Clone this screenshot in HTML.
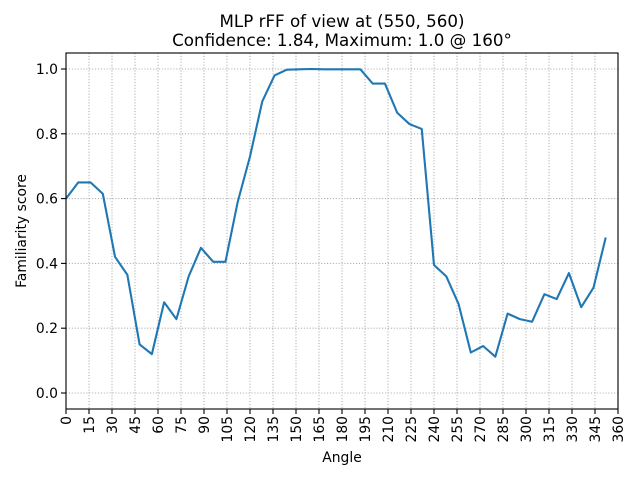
<!DOCTYPE html>
<html><head><meta charset="utf-8"><style>
body{margin:0;background:#fff;}
svg text{font-family:"DejaVu Sans","Liberation Sans",sans-serif;fill:#000;}
</style></head><body>
<svg id="chart" width="640" height="480" xmlns="http://www.w3.org/2000/svg">
<rect width="640" height="480" fill="#fff"/>
<text x="342" y="27" font-size="16.7" text-anchor="middle">MLP rFF of view at (550, 560)</text>
<text x="342" y="46" font-size="16.7" text-anchor="middle">Confidence: 1.84, Maximum: 1.0 @ 160°</text>
<g id="grid"></g><g id="ticks"></g>
<path id="line" fill="none" stroke="#1f77b4" stroke-width="2.1" stroke-linejoin="round"/>
<rect x="66" y="53" width="552" height="356" fill="none" stroke="#000" stroke-width="1.1"/>
<text x="342" y="462" font-size="13.9" text-anchor="middle">Angle</text>
<text transform="translate(26,231) rotate(-90)" font-size="13.9" text-anchor="middle">Familiarity score</text>
</svg>
<script>
const angles=[0,8,16,24,32,40,48,56,64,72,80,88,96,104,112,120,128,136,144,152,160,168,176,184,192,200,208,216,224,232,240,248,256,264,272,280,288,296,304,312,320,328,336,344,352];
const scores=[0.60,0.65,0.65,0.615,0.42,0.365,0.15,0.12,0.28,0.228,0.36,0.448,0.405,0.405,0.59,0.73,0.90,0.98,0.998,0.999,1.0,0.999,0.999,0.999,0.999,0.955,0.955,0.865,0.83,0.815,0.395,0.36,0.275,0.125,0.145,0.112,0.245,0.228,0.22,0.305,0.29,0.37,0.265,0.325,0.48];
const xTicks=[0,15,30,45,60,75,90,105,120,135,150,165,180,195,210,225,240,255,270,285,300,315,330,345,360];
const yTicks=[0.0,0.2,0.4,0.6,0.8,1.0];
const NS="http://www.w3.org/2000/svg";
const xs=v=>66+v*552/360;
const ys=v=>393-v*324;
const grid=document.getElementById('grid'),ticks=document.getElementById('ticks');
function mk(tag,attrs,parent){const e=document.createElementNS(NS,tag);for(const k in attrs)e.setAttribute(k,attrs[k]);parent.appendChild(e);return e;}
xTicks.forEach(t=>{const x=xs(t);
 const g=mk('line',{x1:x,x2:x,y1:53,y2:409,stroke:'#b0b0b0','stroke-width':1.1,'stroke-dasharray':'1.1,1.8'},grid);
 
 
 mk('line',{x1:x,x2:x,y1:409,y2:414,stroke:'#000','stroke-width':1.1},ticks);
 const tx=mk('text',{transform:`translate(${x+5},416) rotate(-90)`,'font-size':13.9,'text-anchor':'end'},ticks);
 tx.textContent=t;
 
 
});
yTicks.forEach(t=>{const y=ys(t);
 const g=mk('line',{x1:66,x2:618,y1:y,y2:y,stroke:'#b0b0b0','stroke-width':1.1,'stroke-dasharray':'1.1,1.8'},grid);
 
 
 mk('line',{x1:61,x2:66,y1:y,y2:y,stroke:'#000','stroke-width':1.1},ticks);
 const tx=mk('text',{x:58,y:y+5,'font-size':13.9,'text-anchor':'end'},ticks);
 tx.textContent=t.toFixed(1);
 
 
});
document.getElementById('line').setAttribute('d',angles.map((a,i)=>(i?'L':'M')+xs(a).toFixed(2)+','+ys(scores[i]).toFixed(2)).join(''));
</script>
</body></html>
